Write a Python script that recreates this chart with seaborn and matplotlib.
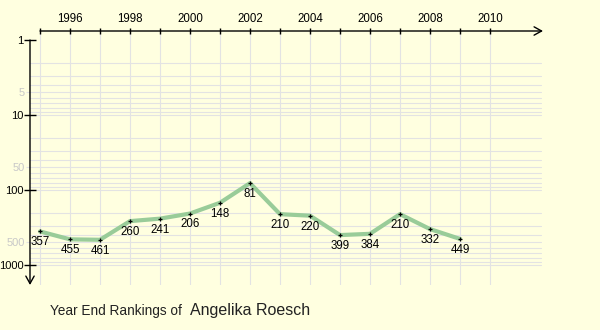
import matplotlib
matplotlib.use("Agg")
import matplotlib.pyplot as plt
import seaborn as sns
import numpy as np

years = [1995, 1996, 1997, 1998, 1999, 2000, 2001, 2002, 2003, 2004, 2005, 2006, 2007, 2008, 2009]
ranks = [357, 455, 461, 260, 241, 206, 148, 81, 210, 220, 399, 384, 210, 332, 449]
xtick_years = list(range(1995, 2011))
xtick_labels = [str(y) if y % 2 == 0 else "" for y in xtick_years]
ymajor = [1, 10, 100, 1000]
yminor_labeled = [5, 50, 500]
player = "Angelika Roesch"

sns.set_theme(style="white")
plt.rcParams['font.family'] = ['Liberation Sans', 'DejaVu Sans']

BG = "#FFFFE0"
GRID = "#E3E3E3"
fig = plt.figure(figsize=(6, 3.3), dpi=100, facecolor=BG)
W, H = 600, 330
left_px, right_px, top_px, bottom_px = 30, 543, 31, 285
ax = fig.add_axes([left_px / W, 1 - bottom_px / H, (right_px - left_px) / W, (bottom_px - top_px) / H])
ax.set_facecolor(BG)

ax.set_yscale('log')
x0 = 1995 - 10 / 30
x1 = 1995 + (right_px - 40) / 30
ax.set_xlim(x0, x1)
ytop = 10 ** (-(40 - top_px) / 75)
ybot = 10 ** ((bottom_px - 40) / 75)
ax.set_ylim(ybot, ytop)

# grid
for y in xtick_years:
    ax.axvline(y, color=GRID, lw=0.8, zorder=0)
for dec in [1, 10, 100]:
    for m in range(2, 11):
        ax.axhline(dec * m, color=GRID, lw=0.8, zorder=0, xmax=(541 - left_px) / (right_px - left_px))

for s in ax.spines.values():
    s.set_visible(False)

# axes arrows
ax.annotate('', xy=(1.0, 1.0), xycoords='axes fraction', xytext=(1995, 1.0),
            textcoords=('data', 'axes fraction'),
            arrowprops=dict(arrowstyle='->,head_length=0.45,head_width=0.25', lw=1, color='black',
                            shrinkA=0, shrinkB=0))
ax.annotate('', xy=(0.0, 0.0), xycoords='axes fraction', xytext=(0.0, 1),
            textcoords=('axes fraction', 'data'),
            arrowprops=dict(arrowstyle='->,head_length=0.45,head_width=0.25', lw=1, color='black',
                            shrinkA=0, shrinkB=0))

# ticks
ax.xaxis.tick_top()
ax.set_xticks(xtick_years)
ax.set_xticklabels(xtick_labels)
ax.tick_params(axis='x', which='major', direction='inout', length=4, width=1, colors='black',
               labelsize=8.3, pad=2, top=True, bottom=False)
ax.set_yticks(ymajor)
ax.set_yticklabels([str(v) for v in ymajor])
ax.set_yticks(yminor_labeled, minor=True)
ax.set_yticklabels([str(v) for v in yminor_labeled], minor=True)
ax.tick_params(axis='y', which='major', direction='inout', length=8, width=1, colors='black',
               labelsize=8, pad=0.5, left=True)
ax.tick_params(axis='y', which='minor', direction='out', length=3, width=0.8, color=GRID,
               labelcolor='#C8C8C8', labelsize=8, pad=0.5, left=True)

# data line
sns.lineplot(x=years, y=ranks, ax=ax, color='#99CC99', lw=3, zorder=3)
sns.scatterplot(x=years, y=ranks, ax=ax, marker='+', color='black', s=8, linewidth=0.9, zorder=4)
for x, r in zip(years, ranks):
    ax.annotate(str(r), xy=(x, r), xytext=(0, -3.5), textcoords='offset points',
                ha='center', va='top', fontsize=8.3, color='black', zorder=5)

fig.text(50 / W, 1 - 315 / H, "Year End Rankings of", fontsize=9.8, color='#222222', va='baseline', ha='left')
fig.text(190 / W, 1 - 315 / H, player, fontsize=11.5, color='#222222', va='baseline', ha='left')

fig.savefig("out.png", dpi=100, facecolor=BG)
